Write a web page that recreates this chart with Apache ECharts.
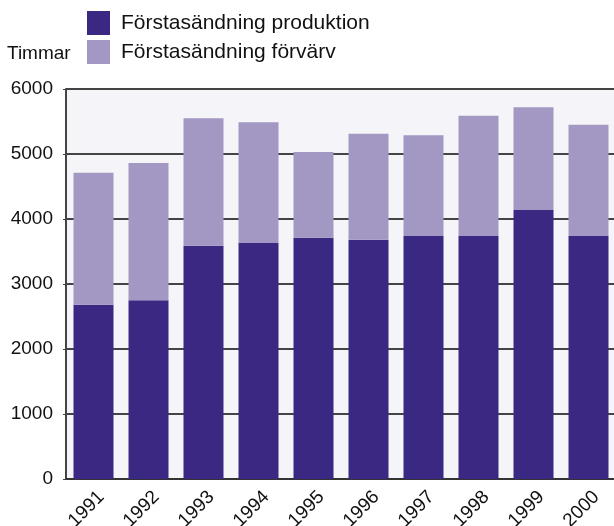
<!DOCTYPE html>
<html><head><meta charset="utf-8">
<script src="https://cdn.jsdelivr.net/npm/echarts@6/dist/echarts.min.js"></script>
<style>html,body{margin:0;padding:0;background:#fff}#c{width:614px;height:526px}</style>
</head><body><div id="c"></div>
<script>
var years = ['1991','1992','1993','1994','1995','1996','1997','1998','1999','2000'];
var produktion = [2680, 2750, 3590, 3630, 3710, 3680, 3740, 3740, 4140, 3740];
var forvarv = [2030, 2110, 1960, 1860, 1320, 1630, 1550, 1850, 1580, 1710];
var yTicks = [0, 1000, 2000, 3000, 4000, 5000, 6000];
var seriesNames = ['Förstasändning produktion', 'Förstasändning förvärv'];

var font = 'Liberation Sans, Arial, sans-serif';
var chart = echarts.init(document.getElementById('c'), null, {renderer: 'canvas'});
chart.setOption({
  animation: false,
  title: {text: 'Timmar', left: 2, top: 39, textStyle: {fontFamily: font, fontSize: 19, fontWeight: 'normal', color: '#111'}},
  legend: {
    orient: 'vertical', left: 82, top: 6, itemWidth: 23, itemHeight: 24, itemGap: 5,
    icon: 'rect', data: seriesNames,
    textStyle: {fontFamily: font, fontSize: 21, color: '#111', padding: [0, 0, 0, 6]}
  },
  grid: {left: 66, right: -2, top: 89, bottom: 47, show: true, backgroundColor: '#f4f4f9', borderWidth: 0, containLabel: false, outerBoundsMode: 'none'},
  xAxis: {
    type: 'category', data: years,
    axisLine: {lineStyle: {color: '#333', width: 2}},
    axisTick: {show: false},
    axisLabel: {rotate: 45, align: 'center', verticalAlign: 'middle', fontFamily: font, fontSize: 19, color: '#111', margin: 23, padding: [0, 20, 0, 0], interval: 0}
  },
  yAxis: {
    type: 'value', min: yTicks[0], max: yTicks[yTicks.length - 1], interval: 1000,
    axisLine: {show: true, lineStyle: {color: '#444', width: 2}},
    axisTick: {show: true, length: 3, lineStyle: {color: '#444', width: 1}},
    axisLabel: {fontFamily: font, fontSize: 19, color: '#111', margin: 13, padding: [4, 0, 0, 0], formatter: function (v) { return String(v); }},
    splitLine: {lineStyle: {color: '#444', width: 2}}
  },
  series: [
    {name: seriesNames[0], type: 'bar', stack: 't', data: produktion, barWidth: 40, itemStyle: {color: '#3a2882'}},
    {name: seriesNames[1], type: 'bar', stack: 't', data: forvarv, barWidth: 40, itemStyle: {color: '#a397c4'}}
  ]
});
</script></body></html>
